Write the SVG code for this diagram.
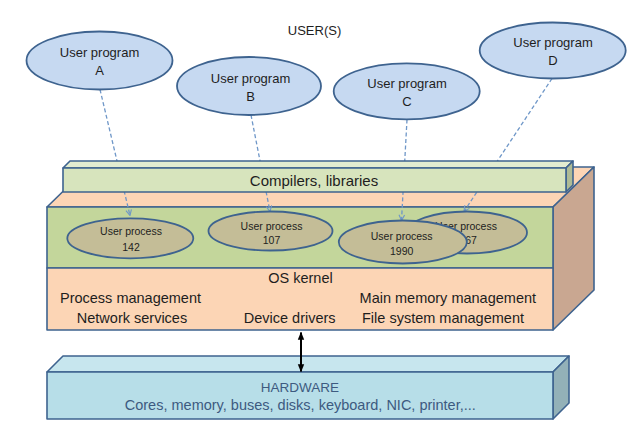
<svg xmlns="http://www.w3.org/2000/svg" width="633" height="446" viewBox="0 0 633 446">
<style>
text{font-family:"Liberation Sans",Arial,sans-serif;fill:#1e1e1e}
.box{stroke:#3e638f;stroke-width:1.6;stroke-linejoin:round}
.prog{fill:#c6d9f1;stroke:#3e638f;stroke-width:1.8}
.proc{fill:#c4bd97;stroke:#3e638f;stroke-width:1.8}
.dash{stroke:#6f97c8;stroke-width:1.3;stroke-dasharray:4 2.5;fill:none}
.t13{font-size:13px}
.t10{font-size:10.5px}
.t14{font-size:14.5px}
.hw{fill:#3d5a80}
</style>
<defs>
<marker id="va" viewBox="0 0 10 10" refX="9" refY="5" markerWidth="7" markerHeight="7" orient="auto" markerUnits="userSpaceOnUse">
<path d="M1,1 L9,5 L1,9" fill="none" stroke="#6f97c8" stroke-width="1.6"/>
</marker>
<marker id="ba" viewBox="0 0 10 10" refX="9" refY="5" markerWidth="8" markerHeight="8" orient="auto-start-reverse" markerUnits="userSpaceOnUse">
<path d="M0,1 L10,5 L0,9 Z" fill="#000"/>
</marker>
</defs>

<text class="t13" x="314.5" y="35" text-anchor="middle">USER(S)</text>

<g id="os-box">
<polygon class="box" points="47,207 88,167 594,167 553,207" fill="#fcd5b5"/>
<polygon class="box" points="553,207 594,167 594,290 553,330" fill="#c9a791"/>
<rect class="box" x="47" y="207" width="506" height="61" fill="#c3d69b"/>
<rect class="box" x="47" y="268" width="506" height="62" fill="#fcd5b5"/>
<text class="t14" x="300.5" y="283" text-anchor="middle">OS kernel</text>
<text class="t14" x="130.5" y="303" text-anchor="middle">Process management</text>
<text class="t14" x="132" y="323" text-anchor="middle">Network services</text>
<text class="t14" x="289.7" y="323" text-anchor="middle">Device drivers</text>
<text class="t14" x="447.8" y="303" text-anchor="middle">Main memory management</text>
<text class="t14" x="443" y="323" text-anchor="middle">File system management</text>
</g>

<g id="hardware">
<polygon class="box" points="47,372 63,356 569,356 553,372" fill="#c7e6ee"/>
<polygon class="box" points="553,372 569,356 569,403 553,419" fill="#93b1b8"/>
<rect class="box" x="47" y="372" width="506" height="47" fill="#b7dee8"/>
<text class="hw" x="300" y="391.5" text-anchor="middle" style="font-size:13.5px">HARDWARE</text>
<text class="hw t14" x="300.3" y="410" text-anchor="middle">Cores, memory, buses, disks, keyboard, NIC, printer,...</text>
</g>

<g id="connectors">
<line class="dash" x1="100" y1="89.5" x2="130" y2="215.5" marker-end="url(#va)"/>
<line class="dash" x1="251" y1="115" x2="270" y2="211.5" marker-end="url(#va)"/>
<line class="dash" x1="407" y1="119.5" x2="401.5" y2="220.5" marker-end="url(#va)"/>
<line class="dash" x1="552" y1="78.5" x2="464" y2="211.5" marker-end="url(#va)"/>
<line x1="301" y1="332.5" x2="301" y2="371.5" stroke="#000" stroke-width="2" marker-start="url(#ba)" marker-end="url(#ba)"/>
</g>

<g id="compilers">
<polygon class="box" points="63,168 70,161 573,161 566,168" fill="#e2ecd0"/>
<polygon class="box" points="566,168 573,161 573,185 566,192" fill="#aebb96"/>
<rect class="box" x="63" y="168" width="503" height="24" fill="#d7e4bd"/>
<text x="314" y="185.5" text-anchor="middle" style="font-size:15px">Compilers, libraries</text>
</g>

<g id="prog-a">
<ellipse class="prog" cx="99.5" cy="60.5" rx="73" ry="29"/>
<text class="t13" x="99.5" y="57" text-anchor="middle">User program</text>
<text class="t13" x="99.5" y="75" text-anchor="middle">A</text>
</g>
<g id="prog-b">
<ellipse class="prog" cx="249" cy="86" rx="72" ry="29"/>
<text class="t13" x="250.5" y="83" text-anchor="middle">User program</text>
<text class="t13" x="250.5" y="101" text-anchor="middle">B</text>
</g>
<g id="prog-c">
<ellipse class="prog" cx="406.7" cy="91.3" rx="73" ry="28"/>
<text class="t13" x="407" y="88" text-anchor="middle">User program</text>
<text class="t13" x="407" y="106" text-anchor="middle">C</text>
</g>
<g id="prog-d">
<ellipse class="prog" cx="552.7" cy="50.5" rx="73" ry="28"/>
<text class="t13" x="553" y="46.5" text-anchor="middle">User program</text>
<text class="t13" x="553" y="64.5" text-anchor="middle">D</text>
</g>

<g id="proc-142">
<ellipse class="proc" cx="130.3" cy="238.3" rx="63" ry="20"/>
<text class="t10" x="131" y="234.5" text-anchor="middle">User process</text>
<text class="t10" x="131" y="250.5" text-anchor="middle">142</text>
</g>
<g id="proc-107">
<ellipse class="proc" cx="270.5" cy="231" rx="62" ry="19.5"/>
<text class="t10" x="271.5" y="229.5" text-anchor="middle">User process</text>
<text class="t10" x="271.5" y="244" text-anchor="middle">107</text>
</g>
<g id="proc-67">
<ellipse class="proc" cx="467" cy="232.5" rx="60" ry="21"/>
<text class="t10" x="466" y="229.5" text-anchor="middle">User process</text>
<text class="t10" x="471" y="244" text-anchor="middle">67</text>
</g>
<g id="proc-1990">
<ellipse class="proc" cx="402.8" cy="242" rx="64" ry="21.5"/>
<text class="t10" x="401.7" y="239.5" text-anchor="middle">User process</text>
<text class="t10" x="401.7" y="254.5" text-anchor="middle">1990</text>
</g>
</svg>
